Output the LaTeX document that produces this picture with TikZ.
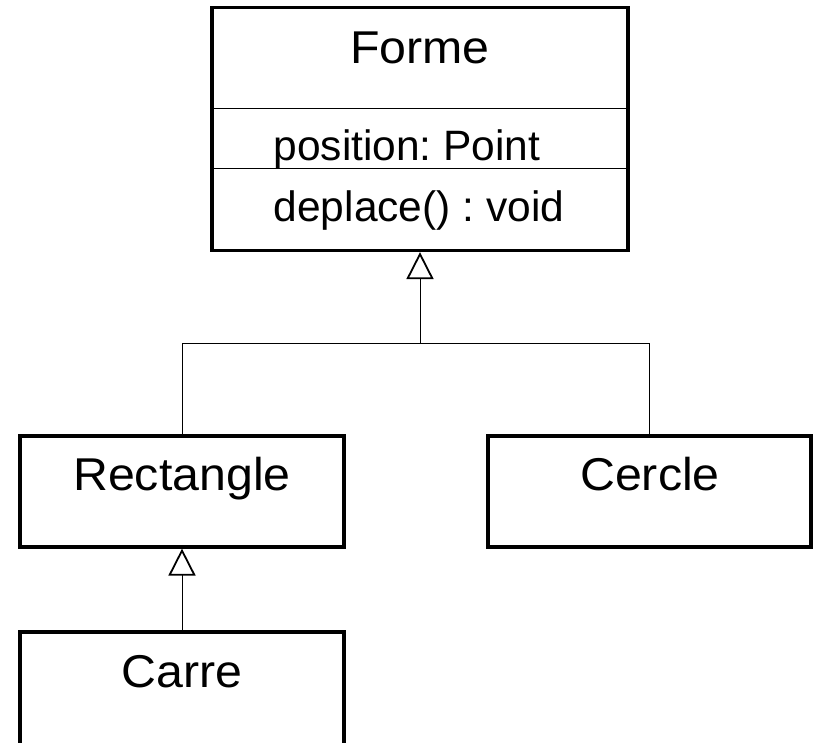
\documentclass[tikz,border=0pt]{standalone}
\usepackage{fontspec}
\setmainfont{Liberation Sans}
\newfontfamily\classnamefont[FakeStretch=1.05]{Liberation Sans}
\frenchspacing
\usetikzlibrary{arrows.meta}
\begin{document}
\begin{tikzpicture}[x=1pt,y=-1pt,
  classbox/.style={draw, line width=3.2pt, rectangle, inner sep=0pt},
  classname/.style={font=\classnamefont\fontsize{46}{54}\selectfont, inner sep=0pt, anchor=base},
  member/.style={font=\fontsize{42.5}{50}\selectfont, inner sep=0pt, anchor=base},
  link/.style={line width=1pt},
  inherit/.style={link, -{Triangle[open, width=27pt, length=27pt, line width=1.8pt]}},
]
\useasboundingbox (0,0) rectangle (814,742);
\clip (0,0) rectangle (814,742);

% class boxes
\node[classbox, minimum width=416pt, minimum height=243pt] (forme) at (420,129) {};
\node[classbox, minimum width=324pt, minimum height=111pt] (rect) at (182,491.5) {};
\node[classbox, minimum width=323pt, minimum height=111pt] (cercle) at (649.5,491.5) {};
\node[classbox, minimum width=324pt, minimum height=113pt] (carre) at (182,688.5) {};

% compartments of Forme
\coordinate (sepA) at (420,108);
\coordinate (sepB) at (420,168);
\draw[link] (forme.west |- sepA) -- (forme.east |- sepA);
\draw[link] (forme.west |- sepB) -- (forme.east |- sepB);

% labels
\node[classname] (tForme) at (420,63) {Forme};
\node[member] (tAttr) at (407,160) {position: Point};
\node[member] (tOp) at (419,221) {deplace() : void};
\node[classname] (tRect) at (182,490.5) {Rectangle};
\node[classname] (tCercle) at (650,490.5) {Cercle};
\node[classname] (tCarre) at (182,687) {Carre};

% generalisations
\coordinate (bus) at (420,343);
\draw[link] (rect.north) |- (cercle.north |- bus) -- (cercle.north);
\draw[inherit] (bus) -- (forme.south);
\draw[inherit] (carre.north) -- (rect.south);
\end{tikzpicture}
\end{document}
